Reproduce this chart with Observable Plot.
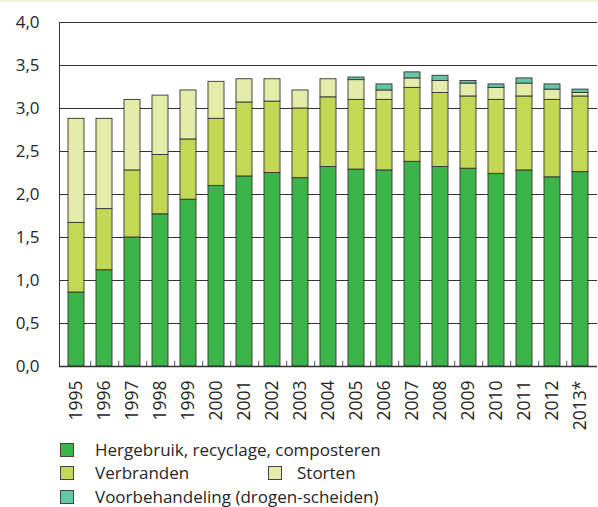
<!DOCTYPE html>
<html><head><meta charset="utf-8">
<script src="https://cdn.jsdelivr.net/npm/d3@7"></script>
<script src="https://cdn.jsdelivr.net/npm/@observablehq/plot@0.6"></script>
<style>
body{margin:0;background:#fff;font-family:"Open Sans",sans-serif;}
#strip{height:2px;background:#eef2d6;}
#chart svg{display:block;}
#legend{position:relative;height:75px;width:598px;}
.item{position:absolute;display:flex;align-items:center;font-size:17px;color:#262626;line-height:17px;white-space:nowrap;}
.sw{width:14px;height:14px;border:1px solid #444;box-sizing:border-box;flex:none;}
</style></head><body>
<div id="strip"></div><div id="chart"></div><div id="legend"></div>
<script>
const years = ["1995","1996","1997","1998","1999","2000","2001","2002","2003","2004","2005","2006","2007","2008","2009","2010","2011","2012","2013*"];
const series = ["Hergebruik, recyclage, composteren","Verbranden","Storten","Voorbehandeling (drogen-scheiden)"];
const colors = ["#3bb44a","#c3d955","#e5eba8","#66c7a8"];
const hergebruik = [0.86,1.12,1.50,1.77,1.94,2.10,2.21,2.25,2.19,2.32,2.29,2.28,2.38,2.32,2.30,2.24,2.28,2.20,2.26];
const verbranden = [0.81,0.71,0.78,0.69,0.70,0.78,0.86,0.83,0.81,0.81,0.81,0.82,0.86,0.86,0.84,0.86,0.86,0.90,0.88];
const storten = [1.21,1.05,0.82,0.69,0.57,0.43,0.27,0.26,0.21,0.21,0.23,0.11,0.11,0.14,0.15,0.14,0.15,0.12,0.04];
const voorbehandeling = [0,0,0,0,0,0,0,0,0,0,0.03,0.07,0.07,0.06,0.03,0.04,0.06,0.06,0.04];
const yTicks = [0,0.5,1,1.5,2,2.5,3,3.5,4];

const valuesBySeries = [hergebruik, verbranden, storten, voorbehandeling];
const data = [];
years.forEach((y, i) => {
  series.forEach((s, j) => {
    data.push({year: y, series: s, value: valuesBySeries[j][i]});
  });
});

const fmt = d => d3.format(".1f")(d).replace(".", ",");

const chart = Plot.plot({
  width: 598,
  height: 430,
  marginTop: 20,
  marginBottom: 66,
  marginLeft: 59,
  marginRight: 1,
  style: {fontFamily: "'Open Sans', sans-serif", color: "#262626", background: "#fff"},
  x: {domain: years, paddingInner: 0.43, paddingOuter: 0.22, axis: null},
  y: {domain: [0, 4], axis: null},
  color: {domain: series, range: colors},
  marks: [
    Plot.gridY(yTicks, {stroke: "#333", strokeOpacity: 1, strokeWidth: 1}),
    Plot.barY(data, {x: "year", y: "value", fill: "series", z: "series", order: series, stroke: "#333", strokeWidth: 0.9}),
    Plot.ruleX(years.slice(0, -1), {x: d => d, dx: 14.2, y1: 0, y2: 0.06, stroke: "#555", strokeWidth: 1}),
    Plot.ruleY([0], {stroke: "#333", strokeWidth: 1.5}),
    Plot.axisY({ticks: yTicks, tickSize: 0, tickPadding: 20, tickFormat: fmt, fontSize: 17, label: null}),
    Plot.axisX({tickSize: 0, tickPadding: 14, tickRotate: -90, fontSize: 17.5, label: null}),
    Plot.frame({anchor: "left", stroke: "#333"})
  ]
});
document.getElementById("chart").appendChild(chart);

const legend = document.getElementById("legend");
const pos = [[60, 9], [60, 32], [268, 32], [60, 56]];
series.forEach((s, i) => {
  const el = document.createElement("div");
  el.className = "item";
  el.style.left = pos[i][0] + "px";
  el.style.top = pos[i][1] + "px";
  const sw = document.createElement("span");
  sw.className = "sw";
  sw.style.background = colors[i];
  sw.style.marginRight = (i === 2 ? 15 : 21) + "px";
  const t = document.createElement("span");
  t.textContent = s;
  el.appendChild(sw); el.appendChild(t);
  legend.appendChild(el);
});
</script>
</body></html>
